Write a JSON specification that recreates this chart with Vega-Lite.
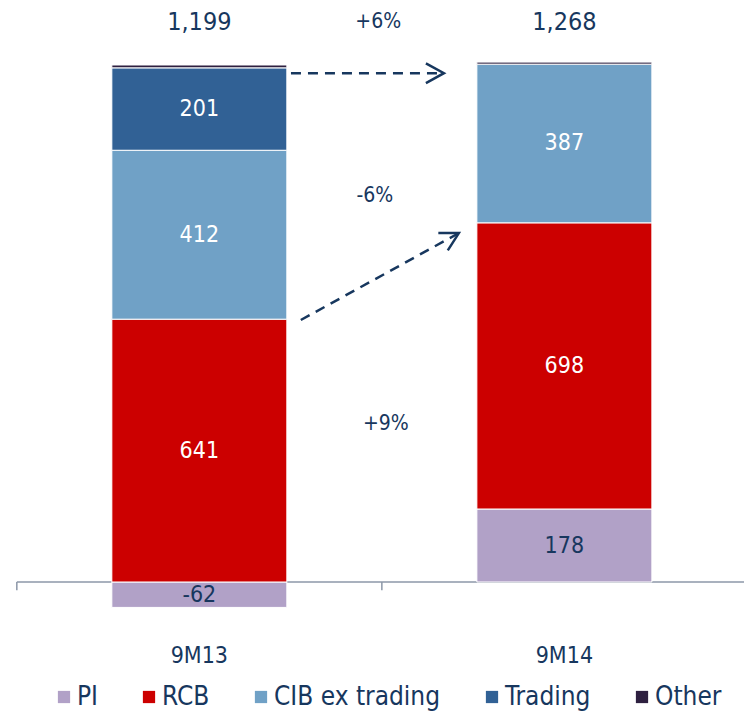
{
  "$schema": "https://vega.github.io/schema/vega-lite/v6.json",
  "width": 744,
  "height": 712,
  "padding": 0,
  "autosize": {"type": "none"},
  "background": "white",
  "config": {
    "view": {"stroke": null},
    "font": "DejaVu Sans Condensed, Liberation Sans Narrow, sans-serif",
    "text": {"font": "DejaVu Sans Condensed, Liberation Sans Narrow, sans-serif"}
  },
  "datasets": {
    "segments": [
      {"period": "9M13", "pos": 0.5, "segment": "PI", "value": -62, "order": 1},
      {"period": "9M13", "pos": 0.5, "segment": "RCB", "value": 641, "order": 2},
      {"period": "9M13", "pos": 0.5, "segment": "CIB ex trading", "value": 412, "order": 3},
      {"period": "9M13", "pos": 0.5, "segment": "Trading", "value": 201, "order": 4},
      {"period": "9M13", "pos": 0.5, "segment": "Other", "value": 7, "order": 5},
      {"period": "9M14", "pos": 1.5, "segment": "PI", "value": 178, "order": 1},
      {"period": "9M14", "pos": 1.5, "segment": "RCB", "value": 698, "order": 2},
      {"period": "9M14", "pos": 1.5, "segment": "CIB ex trading", "value": 387, "order": 3},
      {"period": "9M14", "pos": 1.5, "segment": "Other", "value": 5, "order": 5}
    ],
    "totals": [
      {"period": "9M13", "pos": 0.5, "total": "1,199"},
      {"period": "9M14", "pos": 1.5, "total": "1,268"}
    ],
    "changes": [
      {"label": "+6%", "x": 0.99, "y": 1366},
      {"label": "-6%", "x": 0.981, "y": 941},
      {"label": "+9%", "x": 1.011, "y": 386}
    ],
    "arrows": [
      {"id": "total", "x1": 0.751, "y1": 1241, "x2": 1.17, "y2": 1241},
      {"id": "rcb", "x1": 0.778, "y1": 639, "x2": 1.211, "y2": 851}
    ],
    "axis": [
      {"x1": 0, "x2": 2.1, "y": 0}
    ],
    "ticks": [
      {"x": 0},
      {"x": 1},
      {"x": 2}
    ]
  },
  "layer": [
    {
      "data": {"name": "axis"},
      "mark": {"type": "rule", "color": "#8C97A8", "strokeWidth": 1.5},
      "encoding": {
        "x": {"field": "x1", "type": "quantitative", "scale": {"domain": [-0.0324, 1.9784], "nice": false, "zero": false}, "axis": null},
        "x2": {"field": "x2"},
        "y": {"field": "y", "type": "quantitative", "scale": {"domain": [-317.1, 1419.5], "nice": false, "zero": false}, "axis": null}
      }
    },
    {
      "data": {"name": "ticks"},
      "mark": {"type": "rule", "color": "#8C97A8", "strokeWidth": 1.5},
      "encoding": {
        "x": {"field": "x", "type": "quantitative"},
        "y": {"datum": 0, "type": "quantitative"},
        "y2": {"datum": -20}
      }
    },
    {
      "data": {"name": "segments"},
      "transform": [
        {"stack": "value", "groupby": ["period"], "sort": [{"field": "order"}], "as": ["v0", "v1"]}
      ],
      "mark": {"type": "bar", "width": 175, "stroke": "white", "strokeWidth": 1},
      "encoding": {
        "x": {"field": "pos", "type": "quantitative"},
        "y": {"field": "v0", "type": "quantitative"},
        "y2": {"field": "v1"},
        "color": {
          "field": "segment",
          "type": "nominal",
          "scale": {
            "domain": ["PI", "RCB", "CIB ex trading", "Trading", "Other"],
            "range": ["#B1A1C7", "#CC0000", "#70A1C6", "#316195", "#2E2040"]
          },
          "legend": {
            "title": null,
            "orient": "none",
            "direction": "horizontal",
            "legendX": 51,
            "legendY": 684,
            "padding": 0,
            "symbolType": "square",
            "symbolSize": 150,
            "symbolStrokeWidth": 0,
            "symbolOpacity": 1,
            "labelFontSize": 26,
            "labelColor": "#17375E",
            "labelFont": "DejaVu Sans Condensed, Liberation Sans Narrow, sans-serif",
            "labelOffset": 0,
            "columnPadding": 38,
            "labelLimit": 300
          }
        }
      }
    },
    {
      "data": {"name": "segments"},
      "transform": [
        {"stack": "value", "groupby": ["period"], "sort": [{"field": "order"}], "as": ["v0", "v1"]},
        {"calculate": "(datum.v0 + datum.v1) / 2", "as": "mid"},
        {"filter": "datum.segment !== 'Other'"}
      ],
      "mark": {"type": "text", "fontSize": 23, "baseline": "middle", "align": "center"},
      "encoding": {
        "x": {"field": "pos", "type": "quantitative"},
        "y": {"field": "mid", "type": "quantitative"},
        "text": {"field": "value", "type": "nominal"},
        "color": {
          "condition": {"test": "datum.segment === 'PI'", "value": "#17375E"},
          "value": "white"
        }
      }
    },
    {
      "data": {"name": "totals"},
      "mark": {"type": "text", "fontSize": 25, "baseline": "middle", "align": "center", "color": "#17375E"},
      "encoding": {
        "x": {"field": "pos", "type": "quantitative"},
        "y": {"datum": 1367, "type": "quantitative"},
        "text": {"field": "total", "type": "nominal"}
      }
    },
    {
      "data": {"name": "totals"},
      "mark": {"type": "text", "fontSize": 23, "baseline": "middle", "align": "center", "color": "#17375E"},
      "encoding": {
        "x": {"field": "pos", "type": "quantitative"},
        "y": {"datum": -180, "type": "quantitative"},
        "text": {"field": "period", "type": "nominal"}
      }
    },
    {
      "data": {"name": "changes"},
      "mark": {"type": "text", "fontSize": 21, "baseline": "middle", "align": "center", "color": "#17375E"},
      "encoding": {
        "x": {"field": "x", "type": "quantitative"},
        "y": {"field": "y", "type": "quantitative"},
        "text": {"field": "label", "type": "nominal"}
      }
    },
    {
      "data": {"name": "arrows"},
      "mark": {"type": "rule", "color": "#17375E", "strokeWidth": 2.5, "strokeDash": [10, 7]},
      "encoding": {
        "x": {"field": "x1", "type": "quantitative"},
        "y": {"field": "y1", "type": "quantitative"},
        "x2": {"field": "x2"},
        "y2": {"field": "y2"}
      }
    },
    {
      "data": {"name": "arrows"},
      "transform": [{"filter": "datum.id === 'total'"}],
      "mark": {"type": "point", "shape": "M -1 -0.55 L 0 0 L -1 0.55", "filled": false, "stroke": "#17375E", "strokeWidth": 2.5, "size": 1296, "angle": 0, "opacity": 1},
      "encoding": {
        "x": {"field": "x2", "type": "quantitative"},
        "y": {"field": "y2", "type": "quantitative"}
      }
    },
    {
      "data": {"name": "arrows"},
      "transform": [{"filter": "datum.id === 'rcb'"}],
      "mark": {"type": "point", "shape": "M -1 -0.55 L 0 0 L -1 0.55", "filled": false, "stroke": "#17375E", "strokeWidth": 2.5, "size": 1296, "angle": 331.5, "opacity": 1},
      "encoding": {
        "x": {"field": "x2", "type": "quantitative"},
        "y": {"field": "y2", "type": "quantitative"}
      }
    }
  ]
}
